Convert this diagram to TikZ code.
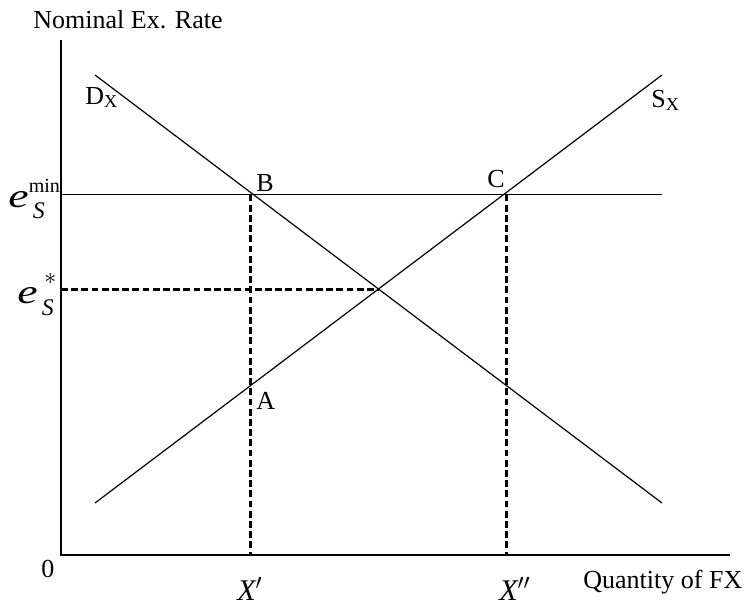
\documentclass[tikz,border=0pt]{standalone}
\usepackage{amsmath}
\usepackage{fontspec}
\setmainfont{Liberation Serif}
\usetikzlibrary{calc}
\tikzset{
  axis/.style={line width=0.7pt},
  curve/.style={line width=0.6pt},
  guide/.style={line width=1.5pt, dash pattern=on 3.4pt off 1.7pt},
  lbl/.style={font=\fontsize{13}{15}\selectfont, inner sep=0pt, anchor=base west},
  qty/.style={font=\fontsize{15}{17}\selectfont\itshape, inner sep=0pt, anchor=base west},
  rate/.style={font=\fontsize{17}{20}\selectfont, inner sep=0pt, anchor=base west}
}
\newcommand{\eS}{\scalebox{1.35}[1]{\textit{e}}}
\newcommand{\tinytxt}[1]{\text{\fontsize{10}{10}\selectfont #1}}

\begin{document}
\begin{tikzpicture}[x=0.5pt, y=-0.5pt]
  \useasboundingbox (0,0) rectangle (746,606);
  % axes
  \coordinate (O) at (61,555);
  \coordinate (ytop) at (61,40);
  \coordinate (xend) at (730,555);
  % demand and supply
  \coordinate (d1) at (95,75);
  \coordinate (d2) at (662,503);
  \coordinate (s1) at (95,503);
  \coordinate (s2) at (662,75);
  % rate levels
  \coordinate (emin) at (61,194.5);
  \coordinate (eminend) at (662,194.5);
  \coordinate (estar) at (61,289);
  \coordinate (eq) at (378.5,289);
  % points on the floor
  \coordinate (B) at (250,194.5);
  \coordinate (C) at (506,194.5);
  \coordinate (xa) at (250,555);
  \coordinate (xc) at (506,555);

  \draw[axis] (ytop) -- (O) -- (xend);
  \draw[curve] (d1) -- (d2);
  \draw[curve] (s1) -- (s2);
  \draw[curve] (emin) -- (eminend);
  \draw[guide] (estar) -- (eq);
  \draw[guide] (B) -- (xa);
  \draw[guide] (C) -- (xc);

  \node[lbl] (yname) at (33,28) {Nominal Ex. Rate};
  \node[lbl] (dname) at (85,104) {D\textsubscript{X}};
  \node[lbl] (sname) at (651,107) {S\textsubscript{X}};
  \node[lbl] (bname) at (256,191) {B};
  \node[lbl] (cname) at (487,187) {C};
  \node[lbl] (aname) at (256,409) {A};
  \node[lbl] (zero) at (41,577) {0};
  \node[qty] (xone) at (237,600) {X$'$};
  \node[qty] (xtwo) at (499,600) {X$''$};
  \node[lbl] (xname) at (583,588) {Quantity of FX};
  \node[rate] (eminlbl) at (8,207) {$\eS_{\,\raisebox{-1.5pt}{$\scriptstyle\textit{S}$}}^{\raisebox{1pt}{\tinytxt{min}}}$};
  \node[rate] (estarlbl) at (17,303) {$\eS_{\,\raisebox{-2pt}{$\scriptstyle\textit{S}$}}^{\;\raisebox{3pt}{$\scriptstyle *$}}$};
\end{tikzpicture}
\end{document}
